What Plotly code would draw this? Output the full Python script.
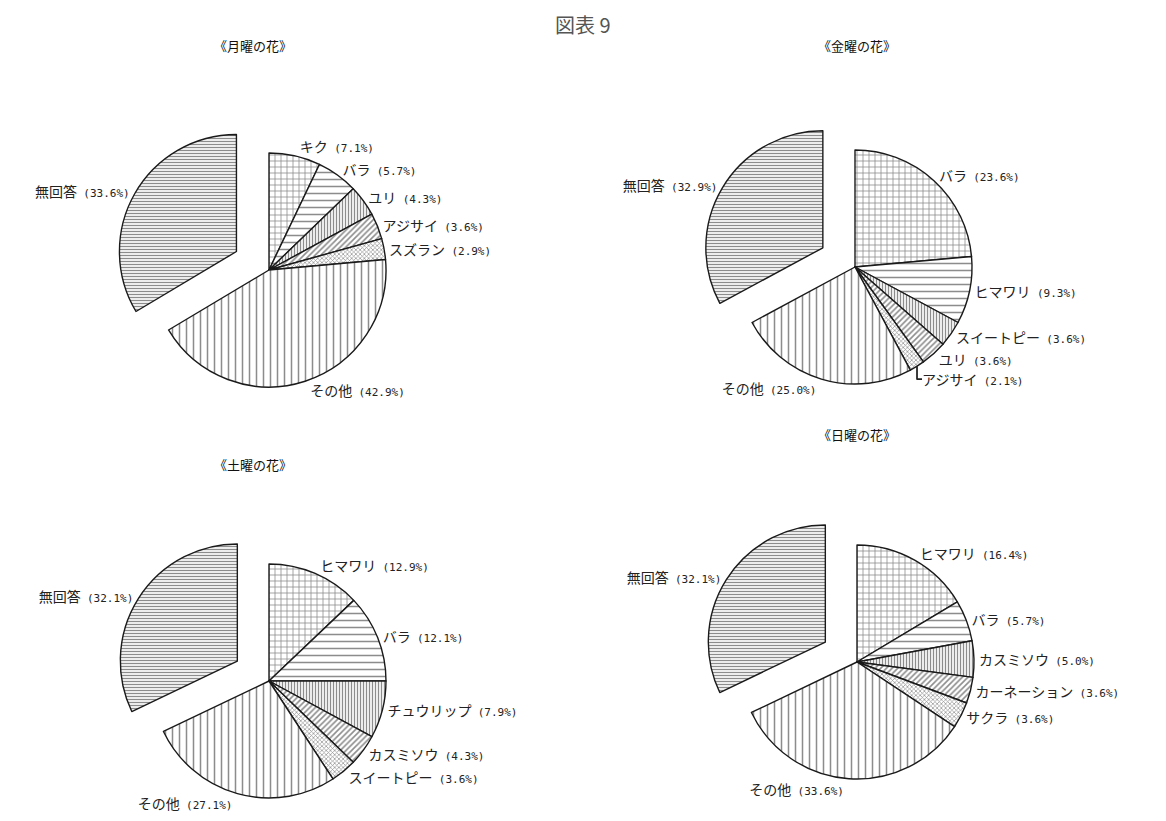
import math
import plotly.graph_objects as go

W, H = 1166, 821
OFF = 8  # default page body margin

main_title = "図表 9"
chart_titles = ["《月曜の花》", "《金曜の花》", "《土曜の花》", "《日曜の花》"]

mon_labels = ["キク", "バラ", "ユリ", "アジサイ", "スズラン", "その他", "無回答"]
mon_values = [7.1, 5.7, 4.3, 3.6, 2.9, 42.9, 33.6]

fri_labels = ["バラ", "ヒマワリ", "スイートピー", "ユリ", "アジサイ", "その他", "無回答"]
fri_values = [23.6, 9.3, 3.6, 3.6, 2.1, 25.0, 32.9]

sat_labels = ["ヒマワリ", "バラ", "チュウリップ", "カスミソウ", "スイートピー", "その他", "無回答"]
sat_values = [12.9, 12.1, 7.9, 4.3, 3.6, 27.1, 32.1]

sun_labels = ["ヒマワリ", "バラ", "カスミソウ", "カーネーション", "サクラ", "その他", "無回答"]
sun_values = [16.4, 5.7, 5.0, 3.6, 3.6, 33.6, 32.1]

# layout (pixels in the reference): pie centres, radius, title positions
centers = [(269, 270), (855, 267), (269, 681), (857, 662)]
radius = 117
pull_frac = 0.32
title_pos = [(253, 45), (857, 45), (253, 465), (857, 435)]

shapes_by_slot = ["+", "-", "|", "/", "x", "|", "-"]
sizes_by_slot = [6, 7, 3, 4, 3, 7, 3]
solid_by_slot = [0.25, 0.22, 0.45, 0.4, 0.4, 0.22, 0.45]

FONT = "Noto Sans CJK JP, Noto Sans, sans-serif"
PCT_FONT = "DejaVu Sans Mono, monospace"


def dom(cx, cy, r):
    cx -= OFF
    cy -= OFF
    return dict(x=[(cx - r) / W, (cx + r) / W], y=[1 - (cy + r) / H, 1 - (cy - r) / H])


def tmpl(lbl):
    return (f"{lbl}  <span style='font-size:11px;font-family:{PCT_FONT}'>"
            f"(%{{value:.1f}}%)</span>")


fig = go.Figure()
datasets = [(mon_labels, mon_values), (fri_labels, fri_values),
            (sat_labels, sat_values), (sun_labels, sun_values)]

for (labels, values), (cx, cy) in zip(datasets, centers):
    n = len(values)
    last = n - 1
    common = dict(labels=labels, values=values, sort=False, direction="clockwise",
                  rotation=0, textposition="outside",
                  outsidetextfont=dict(family=FONT, size=14, color="#222"),
                  showlegend=False, hoverinfo="label+value")
    # main pie (all slices except 無回答 visible)
    fig.add_trace(go.Pie(
        domain=dom(cx, cy, radius),
        marker=dict(
            colors=["white"] * last + ["rgba(0,0,0,0)"],
            line=dict(color="#1a1a1a", width=[1.4] * last + [0]),
            pattern=dict(shape=shapes_by_slot[:last] + [""],
                         size=sizes_by_slot, solidity=solid_by_slot,
                         fgcolor="#1a1a1a", bgcolor="white", fillmode="overlay"),
        ),
        texttemplate=[tmpl(l) for l in labels[:last]] + [""],
        **common,
    ))
    # exploded 無回答 slice, shifted along its mid-angle
    total = sum(values)
    mid = (sum(values[:last]) + values[last] / 2) / total * 2 * math.pi
    dx = pull_frac * radius * math.sin(mid)
    dy = -pull_frac * radius * math.cos(mid)
    fig.add_trace(go.Pie(
        domain=dom(cx + dx, cy + dy, radius),
        marker=dict(
            colors=["rgba(0,0,0,0)"] * last + ["white"],
            line=dict(color="#1a1a1a", width=[0] * last + [1.4]),
            pattern=dict(shape=[""] * last + [shapes_by_slot[last]],
                         size=sizes_by_slot, solidity=solid_by_slot,
                         fgcolor="#1a1a1a", bgcolor="white", fillmode="overlay"),
        ),
        texttemplate=[""] * last + [tmpl(labels[last])],
        **common,
    ))

annotations = [dict(text=main_title, x=(583 - OFF) / W, y=1 - (24 - OFF) / H,
                    xref="paper", yref="paper", xanchor="center", yanchor="middle",
                    showarrow=False, font=dict(family=FONT, size=20, color="#555"))]
for t, (tx, ty) in zip(chart_titles, title_pos):
    annotations.append(dict(text=t, x=(tx - OFF) / W, y=1 - (ty - OFF) / H,
                            xref="paper", yref="paper", xanchor="center", yanchor="middle",
                            showarrow=False, font=dict(family=FONT, size=13, color="#111")))

fig.update_layout(
    width=W, height=H, margin=dict(l=0, r=0, t=0, b=0),
    paper_bgcolor="white", plot_bgcolor="white",
    annotations=annotations,
)

fig.write_html("out.html")
